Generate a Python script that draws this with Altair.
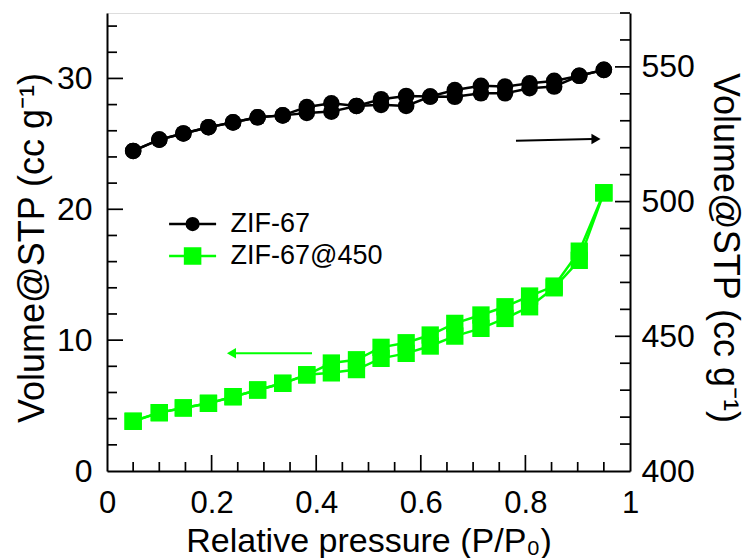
import altair as alt
import pandas as pd

# ---------------- data ----------------
P = [0.05, 0.10, 0.146, 0.194, 0.241, 0.288, 0.336, 0.382, 0.429, 0.477,
     0.524, 0.572, 0.618, 0.665, 0.715, 0.761, 0.808, 0.855, 0.903, 0.95]
# ZIF-67 (right axis)
ZIF67_ADS = [518.8, 523.0, 525.3, 527.6, 529.4, 531.3, 532.0, 532.9, 533.4, 535.5,
             535.9, 535.5, 539.0, 538.9, 540.2, 540.2, 542.1, 542.7, 546.7, 548.9]
ZIF67_DES = [518.8, 523.0, 525.3, 527.6, 529.4, 531.3, 532.0, 535.1, 536.5, 535.5,
             538.0, 539.2, 539.0, 541.4, 543.0, 542.7, 543.9, 544.8, 546.7, 548.9]
# ZIF-67@450 (left axis)
Z450_ADS = [3.80, 4.46, 4.82, 5.17, 5.68, 6.19, 6.70, 7.35, 7.50, 7.75,
            8.61, 8.99, 9.55, 10.31, 10.90, 11.66, 12.55, 14.00, 16.10, 21.26]
Z450_DES = [3.80, 4.46, 4.82, 5.17, 5.68, 6.19, 6.70, 7.35, 8.25, 8.50,
            9.45, 9.80, 10.39, 11.28, 11.92, 12.55, 13.37, 14.13, 16.80, 21.26]

SERIES = ["ZIF-67", "ZIF-67@450"]

X_LABELS = [0, 0.2, 0.4, 0.6, 0.8, 1]
X_MINOR = [0.05, 0.1, 0.15, 0.25, 0.3, 0.35, 0.45, 0.5, 0.55, 0.65, 0.7, 0.75, 0.85, 0.9, 0.95]
X_MAJOR = [0.2, 0.4, 0.6, 0.8]
LEFT_LABELS = [0, 10, 20, 30]
LEFT_MINOR = [2, 4, 6, 8, 12, 14, 16, 18, 22, 24, 26, 28, 32, 34]
LEFT_MAJOR = [10, 20, 30]
RIGHT_LABELS = [400, 450, 500, 550]
RIGHT_MINOR = [410, 420, 430, 440, 460, 470, 480, 490, 510, 520, 530, 540, 560, 570]
RIGHT_MAJOR = [450, 500, 550]

# arrows (data units)
ARROW_K_P = [0.782]; ARROW_K_P2 = [0.928]; ARROW_K_R = [522.6]; ARROW_K_R2 = [523.2]
ARROW_K_HEAD_P = [0.935]; ARROW_K_HEAD_R = [523.2]
ARROW_G_P = [0.392]; ARROW_G_P2 = [0.245]; ARROW_G_V = [8.99]
ARROW_G_HEAD_P = [0.238]; ARROW_G_HEAD_V = [8.99]

# ---------------- styles ----------------
FONT = "Liberation Sans"
GREEN = "#00ff00"
BLACK = "#000000"
W, H = 523, 458

x_scale = alt.Scale(domain=[0, 1], nice=False, zero=False)
left_scale = alt.Scale(domain=[0, 35], nice=False, zero=False)
right_scale = alt.Scale(domain=[400, 570], nice=False, zero=False)

x_axis = alt.Axis(values=X_LABELS, format="~g", ticks=False, tickSize=0, grid=False,
                  labelFlush=False, labelPadding=17, labelFont=FONT, labelFontSize=31,
                  labelColor=BLACK, domainColor=BLACK, domainWidth=2,
                  title="Relative pressure (P/P\u2080)", titleFont=FONT, titleFontSize=34,
                  titleFontWeight="normal", titleColor=BLACK, titleX=261.5, titleY=80,
                  titleAlign="center", titleBaseline="alphabetic", titleAngle=0)
left_axis = alt.Axis(orient="left", values=LEFT_LABELS, ticks=False, tickSize=0, grid=False,
                     labelPadding=15, labelFont=FONT, labelFontSize=32, labelColor=BLACK,
                     domainColor=BLACK, domainWidth=2,
                     title="Volume@STP (cc g\u207b\u00b9)", titleFont=FONT, titleFontSize=36,
                     titleFontWeight="normal", titleColor=BLACK, titleAngle=270,
                     titleX=-64, titleY=234.5, titleAlign="center", titleBaseline="alphabetic")
right_axis = alt.Axis(orient="right", values=RIGHT_LABELS, ticks=False, tickSize=0, grid=False,
                      labelPadding=11, labelFont=FONT, labelFontSize=32, labelColor=BLACK,
                      domainColor=BLACK, domainWidth=2,
                      title="Volume@STP (cc g\u207b\u00b9)", titleFont=FONT, titleFontSize=36,
                      titleFontWeight="normal", titleColor=BLACK, titleAngle=90,
                      titleX=83, titleY=234.5, titleAlign="center", titleBaseline="alphabetic")


def X(field):
    return alt.X(f"{field}:Q", scale=x_scale, axis=x_axis)


def X2(field):
    return alt.X2(f"{field}:Q")


def YL(field):
    return alt.Y(f"{field}:Q", scale=left_scale, axis=left_axis)


def YR(field):
    return alt.Y(f"{field}:Q", scale=right_scale, axis=right_axis)


# ---------------- tables ----------------
green_df = pd.concat([
    pd.DataFrame({"p": P, "v": Z450_ADS, "branch": "ads"}),
    pd.DataFrame({"p": P, "v": Z450_DES, "branch": "des"}),
])
black_df = pd.concat([
    pd.DataFrame({"p": P, "r": ZIF67_ADS, "branch": "ads"}),
    pd.DataFrame({"p": P, "r": ZIF67_DES, "branch": "des"}),
])

# ---------------- left (ZIF-67@450) ----------------
g_lines = alt.Chart(green_df).mark_line(color=GREEN, strokeWidth=2.5).encode(
    x=X("p"), y=YL("v"), detail="branch:N")
g_pts = alt.Chart(green_df).mark_point(shape="square", filled=True, size=300,
                                       color=GREEN, opacity=1).encode(x=X("p"), y=YL("v"))
g_arrow = alt.Chart(pd.DataFrame({"p": ARROW_G_P, "p2": ARROW_G_P2, "v": ARROW_G_V})).mark_rule(
    color=GREEN, strokeWidth=2).encode(x=X("p"), x2=X2("p2"), y=YL("v"))
g_head = alt.Chart(pd.DataFrame({"p": ARROW_G_HEAD_P, "v": ARROW_G_HEAD_V})).mark_point(
    shape="triangle-left", filled=True, size=110, color=GREEN, opacity=1).encode(x=X("p"), y=YL("v"))

lt_major = alt.Chart(pd.DataFrame({"t": LEFT_MAJOR})).mark_rule(color=BLACK, strokeWidth=1.7).encode(
    y=YL("t"), x=alt.value(0), x2=alt.value(16))
lt_minor = alt.Chart(pd.DataFrame({"t": LEFT_MINOR})).mark_rule(color=BLACK, strokeWidth=1.7).encode(
    y=YL("t"), x=alt.value(0), x2=alt.value(10))
bt_major = alt.Chart(pd.DataFrame({"t": X_MAJOR})).mark_rule(color=BLACK, strokeWidth=1.7).encode(
    x=X("t"), y=alt.value(H), y2=alt.value(H - 16))
bt_minor = alt.Chart(pd.DataFrame({"t": X_MINOR})).mark_rule(color=BLACK, strokeWidth=1.7).encode(
    x=X("t"), y=alt.value(H), y2=alt.value(H - 9))

left_layer = alt.layer(lt_major, lt_minor, bt_major, bt_minor, g_lines, g_pts, g_arrow, g_head)

# ---------------- right (ZIF-67) ----------------
k_lines = alt.Chart(black_df).mark_line(color=BLACK, strokeWidth=2.5).encode(
    x=X("p"), y=YR("r"), detail="branch:N")
k_pts = alt.Chart(black_df).mark_point(shape="circle", filled=True, size=275,
                                       color=BLACK, opacity=1).encode(x=X("p"), y=YR("r"))
k_arrow = alt.Chart(pd.DataFrame({"p": ARROW_K_P, "p2": ARROW_K_P2, "r": ARROW_K_R, "r2": ARROW_K_R2})).mark_rule(
    color=BLACK, strokeWidth=2).encode(x=X("p"), x2=X2("p2"), y=YR("r"), y2=alt.Y2("r2:Q"))
k_head = alt.Chart(pd.DataFrame({"p": ARROW_K_HEAD_P, "r": ARROW_K_HEAD_R})).mark_point(
    shape="triangle-right", filled=True, size=110, color=BLACK, opacity=1).encode(x=X("p"), y=YR("r"))

rt_major = alt.Chart(pd.DataFrame({"t": RIGHT_MAJOR})).mark_rule(color=BLACK, strokeWidth=1.7).encode(
    y=YR("t"), x=alt.value(W), x2=alt.value(W - 15))
rt_minor = alt.Chart(pd.DataFrame({"t": RIGHT_MINOR})).mark_rule(color=BLACK, strokeWidth=1.7).encode(
    y=YR("t"), x=alt.value(W), x2=alt.value(W - 10))

right_layer = alt.layer(rt_major, rt_minor, k_lines, k_pts, k_arrow, k_head)

# ---------------- legend (from an empty-mark layer with explicit domains) ----------------
CIRCLE_LINE = "M-1,0L1,0M0.25,0A0.25,0.25,0,1,1,-0.25,0A0.25,0.25,0,1,1,0.25,0Z"
SQUARE_LINE = "M-1,0L1,0M-0.32,-0.32L0.32,-0.32L0.32,0.32L-0.32,0.32Z"
legend_def = alt.Legend(title=None, orient="none", legendX=60.6, legendY=195,
                        clipHeight=32, rowPadding=0, padding=0,
                        symbolSize=2209, symbolStrokeWidth=2.5, symbolOpacity=1,
                        labelFont=FONT, labelFontSize=27, labelColor=BLACK, labelOffset=13)
legend_layer = alt.Chart(pd.DataFrame({"series": SERIES})).transform_filter("false").mark_point(
    filled=True, opacity=1, strokeWidth=2.5, size=2209).encode(
    color=alt.Color("series:N", scale=alt.Scale(domain=SERIES, range=[BLACK, GREEN]), legend=legend_def),
    stroke=alt.Stroke("series:N", scale=alt.Scale(domain=SERIES, range=[BLACK, GREEN]), legend=legend_def),
    shape=alt.Shape("series:N", scale=alt.Scale(domain=SERIES, range=[CIRCLE_LINE, SQUARE_LINE]), legend=legend_def),
)

chart = alt.layer(left_layer, right_layer, legend_layer).resolve_scale(
    y="independent"
).properties(
    width=W, height=H,
    padding={"left": 107, "top": 13, "right": 117, "bottom": 87},
    autosize=alt.AutoSizeParams(type="none"),
).configure_view(stroke=None).configure(font=FONT)

chart.save("out.html", embed_options={"renderer": "svg", "actions": False})
